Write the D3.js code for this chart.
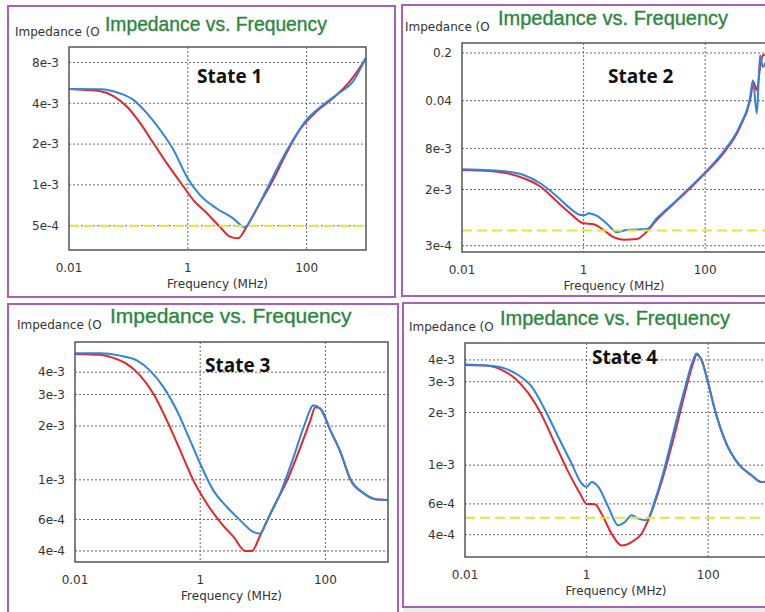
<!DOCTYPE html>
<html>
<head>
<meta charset="utf-8">
<script src="https://cdn.jsdelivr.net/npm/d3@7"></script>
<style>
  body { margin: 0; background: #fff; }
  svg { display: block; }
</style>
</head>
<body>
<div id="chart"></div>
<script>
// frequency in MHz, impedance in Ohm
const state1Red = [[0.01, 5.1e-3], [0.034, 4.9e-3], [0.057, 4.5e-3], [0.095, 3.77e-3], [0.159, 2.84e-3],
  [0.266, 2.02e-3], [0.445, 1.44e-3], [0.745, 1.05e-3], [1.25, 7.7e-4], [2.08, 6.2e-4], [3.48, 4.9e-4],
  [5.12, 4.15e-4], [7.06, 4.04e-4], [9.75, 4.9e-4], [16.3, 7.3e-4], [27.3, 1.09e-3], [45.6, 1.71e-3],
  [76.4, 2.54e-3], [145, 3.46e-3], [276, 4.35e-3], [526, 5.75e-3], [1000, 8.6e-3]];
const state1Blue = [[0.01, 5.1e-3], [0.034, 5.08e-3], [0.073, 4.72e-3], [0.123, 4.22e-3], [0.206, 3.37e-3],
  [0.344, 2.54e-3], [0.575, 1.81e-3], [0.96, 1.15e-3], [1.61, 8.4e-4], [3.06, 6.7e-4], [5.82, 5.66e-4],
  [9.14, 4.86e-4], [12.6, 6.0e-4], [21.1, 9.2e-4], [35.3, 1.44e-3], [59, 2.14e-3], [98.6, 3.0e-3],
  [188, 3.88e-3], [357, 4.78e-3], [598, 5.75e-3], [1000, 8.7e-3]];

const state2Red = [[0.01, 3.87e-3], [0.029, 3.74e-3], [0.055, 3.46e-3], [0.103, 2.92e-3], [0.194, 2.21e-3],
  [0.365, 1.33e-3], [0.6, 9.0e-4], [1.0, 6.4e-4], [1.46, 6.2e-4], [2.13, 5.1e-4], [3.11, 4.0e-4],
  [4.55, 3.67e-4], [7.5, 3.76e-4], [11, 4.86e-4], [16, 7.2e-4], [30, 1.23e-3], [56.6, 2.09e-3],
  [106, 3.66e-3], [200, 6.8e-3], [376, 0.0166], [549, 0.041], [624, 0.075], [707, 0.057], [801, 0.125],
  [887, 0.185], [1000, 0.19]];
const state2Blue = [[0.01, 3.95e-3], [0.029, 3.82e-3], [0.055, 3.66e-3], [0.103, 3.27e-3], [0.194, 2.47e-3],
  [0.365, 1.58e-3], [0.6, 1.06e-3], [0.88, 8.5e-4], [1.07, 8.5e-4], [1.21, 9.0e-4], [1.66, 8.2e-4],
  [2.42, 6.3e-4], [3.53, 4.75e-4], [5.15, 5.1e-4], [11, 5.26e-4], [16, 7.6e-4], [30, 1.26e-3],
  [56.6, 2.16e-3], [106, 3.78e-3], [200, 7.2e-3], [376, 0.0176], [549, 0.0455], [608, 0.08], [707, 0.026],
  [753, 0.071], [801, 0.185], [887, 0.125], [1000, 0.15]];

const state3Red = [[0.01, 5.06e-3], [0.025, 5.0e-3], [0.041, 4.81e-3], [0.067, 4.45e-3], [0.11, 3.83e-3],
  [0.179, 3.03e-3], [0.293, 2.15e-3], [0.479, 1.46e-3], [0.78, 9.9e-4], [1.28, 7.35e-4], [2.09, 5.8e-4],
  [3.41, 4.79e-4], [5.25, 4.0e-4], [6.7, 4.0e-4], [9.1, 4.9e-4], [14.9, 7.05e-4], [24.4, 9.9e-4],
  [39.8, 1.52e-3], [57.5, 2.15e-3], [69, 2.55e-3], [83, 2.5e-3], [120, 1.89e-3], [174, 1.43e-3],
  [251, 1.0e-3], [410, 8.4e-4], [671, 7.75e-4], [1000, 7.7e-4]];
const state3Blue = [[0.01, 5.1e-3], [0.025, 5.1e-3], [0.052, 4.95e-3], [0.097, 4.65e-3], [0.158, 4.08e-3],
  [0.259, 3.3e-3], [0.424, 2.44e-3], [0.69, 1.66e-3], [1.0, 1.23e-3], [1.63, 8.7e-4], [2.67, 7.05e-4],
  [4.37, 5.93e-4], [7.13, 5.1e-4], [9.1, 5.0e-4], [11.7, 5.93e-4], [19, 8.4e-4], [31, 1.34e-3],
  [45, 1.97e-3], [65, 2.61e-3], [83, 2.5e-3], [120, 1.89e-3], [174, 1.43e-3], [251, 1.01e-3],
  [410, 8.4e-4], [671, 7.75e-4], [1000, 7.7e-4]];

const state4Red = [[0.01, 3.74e-3], [0.024, 3.7e-3], [0.04, 3.51e-3], [0.066, 3.14e-3], [0.11, 2.58e-3],
  [0.182, 1.94e-3], [0.301, 1.33e-3], [0.5, 9.15e-4], [0.776, 6.9e-4], [1.0, 6.0e-4], [1.37, 5.97e-4],
  [1.76, 5.27e-4], [2.58, 4.05e-4], [3.76, 3.47e-4], [5.5, 3.63e-4], [8.0, 4.05e-4], [10.3, 4.83e-4],
  [17.1, 8.0e-4], [28.3, 1.52e-3], [41.3, 2.58e-3], [56.6, 3.83e-3], [64.3, 4.28e-3], [77.6, 4.0e-3],
  [100, 2.94e-3], [129, 2.07e-3], [188, 1.39e-3], [311, 1.02e-3], [515, 8.75e-4], [753, 8.0e-4],
  [1000, 8.1e-4]];
const state4Blue = [[0.01, 3.77e-3], [0.024, 3.72e-3], [0.045, 3.58e-3], [0.075, 3.28e-3], [0.125, 2.81e-3],
  [0.207, 2.07e-3], [0.342, 1.45e-3], [0.567, 1.02e-3], [0.828, 7.85e-4], [1.0, 7.5e-4], [1.21, 8.0e-4],
  [1.56, 7.5e-4], [2.27, 5.77e-4], [3.32, 4.53e-4], [4.27, 4.73e-4], [5.5, 5.16e-4], [7.06, 4.94e-4],
  [9.7, 4.83e-4], [13.3, 6.3e-4], [19.4, 9.8e-4], [28.3, 1.66e-3], [41.3, 2.75e-3], [56.6, 4.0e-3],
  [64.3, 4.36e-3], [77.6, 4.0e-3], [100, 2.94e-3], [129, 2.07e-3], [188, 1.39e-3], [311, 1.02e-3],
  [515, 8.75e-4], [753, 8.0e-4], [1000, 8.1e-4]];

const xTickLabels = ["0.01", "1", "100"];
const state1Ticks = ["8e-3", "4e-3", "2e-3", "1e-3", "5e-4"];
const state2Ticks = ["0.2", "0.04", "8e-3", "2e-3", "3e-4"];
const state3Ticks = ["4e-3", "3e-3", "2e-3", "1e-3", "6e-4", "4e-4"];
const state4Ticks = ["4e-3", "3e-3", "2e-3", "1e-3", "6e-4", "4e-4"];
const limitValue = 5e-4;

const panels = [
  { name: "State 1", red: state1Red, blue: state1Blue, ticks: state1Ticks, yDomain: [3.31e-4, 1.04e-2], limit: true,
    frame: [8, 6, 387, 291], plot: [69, 47, 366, 250], title: [105, 31, 19.3], state: [197, 83], ylab: [15, 36] },
  { name: "State 2", red: state2Red, blue: state2Blue, ticks: state2Ticks, yDomain: [2.43e-4, 0.28], limit: true,
    frame: [402, 5, 420, 291], plot: [462, 43, 766, 252], title: [498, 25, 20], state: [608, 83], ylab: [405, 31] },
  { name: "State 3", red: state3Red, blue: state3Blue, ticks: state3Ticks, yDomain: [3.47e-4, 5.9e-3], limit: false,
    frame: [8, 304, 390, 400], plot: [75, 342, 388, 562], title: [110, 323, 21], state: [205, 372], ylab: [17, 329] },
  { name: "State 4", red: state4Red, blue: state4Blue, ticks: state4Ticks, yDomain: [2.98e-4, 5.0e-3], limit: true,
    frame: [403, 303, 420, 304], plot: [465, 343, 769, 557], title: [500, 325, 20], state: [592, 364], ylab: [409, 331] }
];

let width = 765, height = 612;

let svg = d3.select("#chart").append("svg")
  .attr("width", width)
  .attr("height", height)
  .attr("viewBox", "0 0 " + width + " " + height);

svg.append("rect").attr("width", width).attr("height", height).attr("fill", "#fff");
// grey strip under the last frame
svg.append("rect").attr("x", 403).attr("y", 607).attr("width", 362).attr("height", 5).attr("fill", "#ececec");

panels.forEach(function (p, i) {
  let [left, top, right, bottom] = p.plot;
  let x = d3.scaleLog().domain([0.01, 1000]).range([left, right]);
  let y = d3.scaleLog().domain(p.yDomain).range([bottom, top]);

  let g = svg.append("g").attr("class", "panel");

  // purple frame
  g.append("rect")
    .attr("x", p.frame[0]).attr("y", p.frame[1])
    .attr("width", p.frame[2]).attr("height", p.frame[3])
    .attr("fill", "#fff")
    .attr("stroke", "#a461b5")
    .attr("stroke-width", 2);

  g.append("rect")
    .attr("x", left).attr("y", top)
    .attr("width", right - left).attr("height", bottom - top)
    .attr("fill", "#fff");

  // dotted grid
  g.selectAll(".hgrid").data(p.ticks).enter().append("line")
    .attr("x1", left).attr("x2", right)
    .attr("y1", d => y(+d)).attr("y2", d => y(+d))
    .attr("stroke", "#666").attr("stroke-width", 1).attr("stroke-dasharray", "2,2");
  g.selectAll(".vgrid").data(xTickLabels.slice(1)).enter().append("line")
    .attr("x1", d => x(+d)).attr("x2", d => x(+d))
    .attr("y1", top).attr("y2", bottom)
    .attr("stroke", "#666").attr("stroke-width", 1).attr("stroke-dasharray", "2,2");

  // tick labels
  g.selectAll(".ylab").data(p.ticks).enter().append("text")
    .attr("x", left - 10).attr("y", d => y(+d))
    .attr("dy", "0.36em")
    .attr("text-anchor", "end")
    .style("font-family", "DejaVu Sans")
    .style("font-size", "12px")
    .style("fill", "#333")
    .text(d => d);
  g.selectAll(".xlab").data(xTickLabels).enter().append("text")
    .attr("x", d => x(+d)).attr("y", bottom + 22)
    .attr("text-anchor", "middle")
    .style("font-family", "DejaVu Sans")
    .style("font-size", "12px")
    .style("fill", "#333")
    .text(d => d);

  g.append("text")
    .attr("x", (left + Math.min(right, 767)) / 2).attr("y", bottom + 38)
    .attr("text-anchor", "middle")
    .style("font-family", "DejaVu Sans")
    .style("font-size", "12px")
    .style("fill", "#333")
    .text("Frequency (MHz)");

  // axis title, its tail is hidden under the chart title as in the screenshot
  g.append("text")
    .attr("x", p.ylab[0]).attr("y", p.ylab[1])
    .style("font-family", "DejaVu Sans")
    .style("font-size", "12px")
    .style("fill", "#333")
    .text("Impedance (O");

  g.append("text")
    .attr("x", p.title[0]).attr("y", p.title[1])
    .style("font-family", "Liberation Sans")
    .style("font-size", p.title[2] + "px")
    .style("fill", "#2c8642")
    .style("stroke", "#2c8642")
    .style("stroke-width", 0.35)
    .text("Impedance vs. Frequency");

  // curves
  let clipId = "clip" + i;
  g.append("clipPath").attr("id", clipId).append("rect")
    .attr("x", left).attr("y", top).attr("width", right - left).attr("height", bottom - top);

  let line = d3.line()
    .x(d => x(d[0]))
    .y(d => y(d[1]))
    .curve(d3.curveMonotoneX);

  let curves = g.append("g").attr("clip-path", "url(#" + clipId + ")");
  curves.append("path").datum(p.red)
    .attr("d", line).attr("fill", "none")
    .attr("stroke", "#e3262b").attr("stroke-width", 2);
  curves.append("path").datum(p.blue)
    .attr("d", line).attr("fill", "none")
    .attr("stroke", "#2f84de").attr("stroke-width", 2);

  if (p.limit) {
    curves.append("line")
      .attr("x1", left).attr("x2", right)
      .attr("y1", y(limitValue)).attr("y2", y(limitValue))
      .attr("stroke", "#e4e43a").attr("stroke-width", 2)
      .attr("stroke-dasharray", "10,5");
  }

  // plot box
  g.append("rect")
    .attr("x", left).attr("y", top)
    .attr("width", right - left).attr("height", bottom - top)
    .attr("fill", "none")
    .attr("stroke", "#555").attr("stroke-width", 1.5);

  g.append("text")
    .attr("x", p.state[0]).attr("y", p.state[1])
    .style("font-family", "Open Sans")
    .style("font-weight", "700")
    .style("font-size", "19px")
    .style("fill", "#111")
    .text(p.name);
});
</script>
</body>
</html>
